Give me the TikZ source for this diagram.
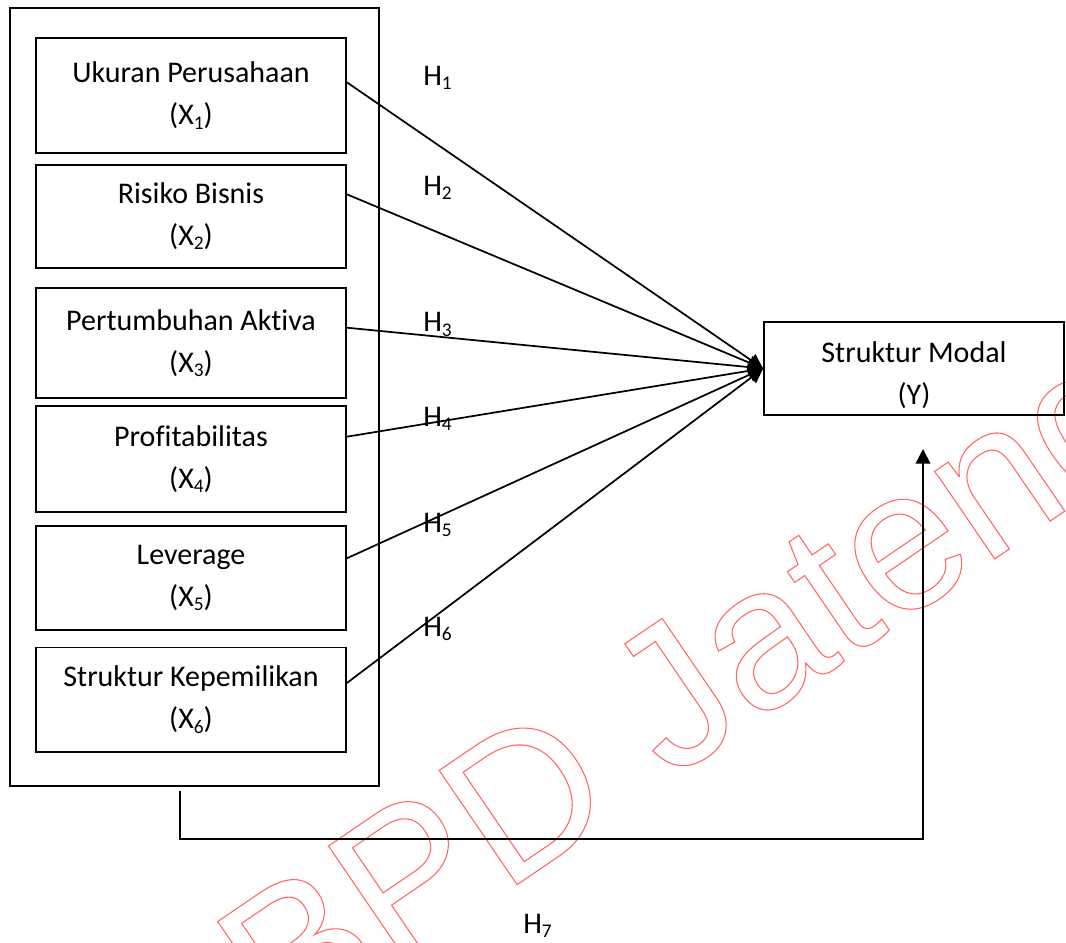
\documentclass[tikz,border=0pt]{standalone}
\usepackage{fontspec}
\setmainfont{Carlito}[Ligatures=NoCommon]
\newfontfamily\wmfont{Liberation Sans}
\usetikzlibrary{arrows.meta,calc}
\newcommand{\subidx}[1]{\raisebox{-0.3ex}{\fontsize{14.5pt}{14.5pt}\selectfont #1}}
\newcommand{\outlined}[1]{\special{pdf:literal direct 1 Tr 0.8 w 1 0.4 0.4 RG}#1\special{pdf:literal direct 0 Tr}}

\begin{document}
\begin{tikzpicture}[x=0.75pt,y=0.75pt,yscale=-1,xscale=1,
    font=\fontsize{22.5pt}{31.5pt}\selectfont,
    varbox/.style={draw,line width=1.3pt,minimum width=232.5pt,align=center,inner sep=0pt},
    hlabel/.style={anchor=base west,inner sep=0pt},
    link/.style={line width=1.3pt,-{Triangle[length=11pt,width=11pt]}}]
\useasboundingbox (0,0) rectangle (1066,942);
%Watermark
\node[rotate=34.3,anchor=base west,inner sep=0pt,font=\wmfont\fontsize{150.75pt}{150.75pt}\selectfont] (wm) at (281.8,1045.2) {\outlined{BPD Jateng}};
%Group of independent variables
\node[draw,line width=1.3pt,minimum width=276.75pt,minimum height=583.5pt] (grp) at (194.5,397) {};
\node[varbox,minimum height=86.25pt] (x1) at (191,95.5) {Ukuran Perusahaan\\(X\subidx{1})};
\node[varbox,minimum height=77pt] (x2) at (191,216.4) {Risiko Bisnis\\(X\subidx{2})};
\node[varbox,minimum height=83pt] (x3) at (191,343) {Pertumbuhan Aktiva\\(X\subidx{3})};
\node[varbox,minimum height=79.7pt] (x4) at (191,459.2) {Profitabilitas\\(X\subidx{4})};
\node[varbox,minimum height=78pt] (x5) at (191,578) {Leverage\\(X\subidx{5})};
\node[varbox,minimum height=78.5pt] (x6) at (191,699.7) {Struktur Kepemilikan\\(X\subidx{6})};
%Dependent variable
\node[varbox,minimum width=225pt,minimum height=69.75pt] (y) at (914,368.5) {\rule{0pt}{25pt}Struktur Modal\\(Y)};
%Hypothesis arrows
\draw[link] ($(x1.east)+(0,-13.2)$) -- (y.west);
\draw[link] ($(x2.east)+(0,-22.1)$) -- (y.west);
\draw[link] ($(x3.east)+(0,-15.3)$) -- (y.west);
\draw[link] ($(x4.east)+(0,-22.5)$) -- (y.west);
\draw[link] ($(x5.east)+(0,-19.7)$) -- (y.west);
\draw[link] ($(x6.east)+(0,-16.7)$) -- (y.west);
%Simultaneous arrow
\coordinate (b0) at (180,791);
\coordinate (b1) at (180,839);
\coordinate (b3) at (923,449);
\draw[link] (b0) -- (b1) -| (b3);
%Labels
\node[hlabel] (h1) at (423,85) {H\subidx{1}};
\node[hlabel] (h2) at (423,195.7) {H\subidx{2}};
\node[hlabel] (h3) at (423,331.7) {H\subidx{3}};
\node[hlabel] (h4) at (423,426) {H\subidx{4}};
\node[hlabel] (h5) at (423,532) {H\subidx{5}};
\node[hlabel] (h6) at (423,636) {H\subidx{6}};
\node[hlabel] (h7) at (523,933) {H\subidx{7}};
\end{tikzpicture}
\end{document}
